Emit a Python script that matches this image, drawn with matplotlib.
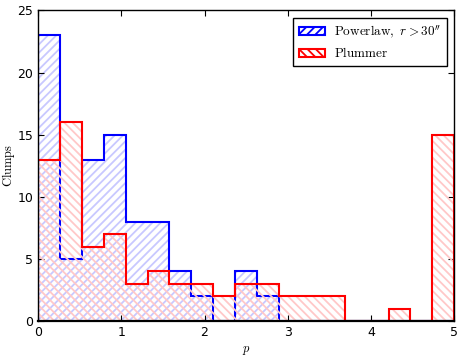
import numpy as np
import matplotlib
matplotlib.use("Agg")
import matplotlib.pyplot as plt
from matplotlib.patches import Patch

plt.rcParams['mathtext.fontset'] = 'cm'
plt.rcParams['xtick.direction'] = 'in'
plt.rcParams['ytick.direction'] = 'in'
plt.rcParams['xtick.top'] = True
plt.rcParams['ytick.right'] = True
plt.rcParams['hatch.linewidth'] = 1.3

edges = np.linspace(0, 5, 20)
powerlaw = [23, 5, 13, 15, 8, 8, 4, 2, 0, 4, 2, 0, 0, 0, 0, 0, 0, 0, 0]
plummer = [13, 16, 6, 7, 3, 4, 3, 3, 2, 3, 3, 2, 2, 2, 0, 0, 1, 0, 15]
centers = 0.5 * (edges[:-1] + edges[1:])

fig = plt.figure(figsize=(4.64, 3.58), dpi=100)
ax = fig.add_axes([0.082, 0.103, 0.897, 0.868])

ax.hist(centers, bins=edges, weights=powerlaw, histtype='stepfilled',
        facecolor='none', edgecolor='#c8c8ff', hatch='////', lw=0, zorder=1)
ax.hist(centers, bins=edges, weights=powerlaw, histtype='step',
        color='blue', lw=1.5, zorder=2)
ax.hist(centers, bins=edges, weights=plummer, histtype='stepfilled',
        facecolor='none', edgecolor='#ffc8c8', hatch='\\\\\\\\', lw=0, zorder=3)
ax.hist(centers, bins=edges, weights=plummer, histtype='step',
        color='red', lw=1.5, zorder=4)
for name, s in ax.spines.items():
    s.set_zorder(6)
    s.set_linewidth(1.6 if name == 'bottom' else 1.0)

h1 = Patch(facecolor='none', edgecolor='blue', hatch='////', lw=1.5)
h2 = Patch(facecolor='none', edgecolor='red', hatch='\\\\\\\\', lw=1.5)
leg = ax.legend([h1, h2], [r"$\mathrm{Powerlaw},\ r>30^{\prime\prime}$", r"$\mathrm{Plummer}$"],
                loc='upper right', fontsize=9.5, fancybox=False, framealpha=1,
                edgecolor='black', borderaxespad=0.55, handlelength=2.0,
                handleheight=0.6, handletextpad=0.65, borderpad=0.45,
                labelspacing=0.45)
leg.get_frame().set_linewidth(1.0)
leg.set_zorder(10)

ax.set_xlim(0, 5)
ax.set_ylim(0, 25)
ax.set_xticks([0, 1, 2, 3, 4, 5])
ax.set_yticks([0, 5, 10, 15, 20, 25])
ax.tick_params(labelsize=9, length=4)
ax.set_xlabel(r"$p$", fontsize=9)
ax.set_ylabel(r"$\mathrm{Clumps}$", fontsize=9)
ax.xaxis.set_label_coords(0.5, -0.075)
ax.yaxis.set_label_coords(-0.05, 0.5)

fig.savefig("out.png", dpi=100)
